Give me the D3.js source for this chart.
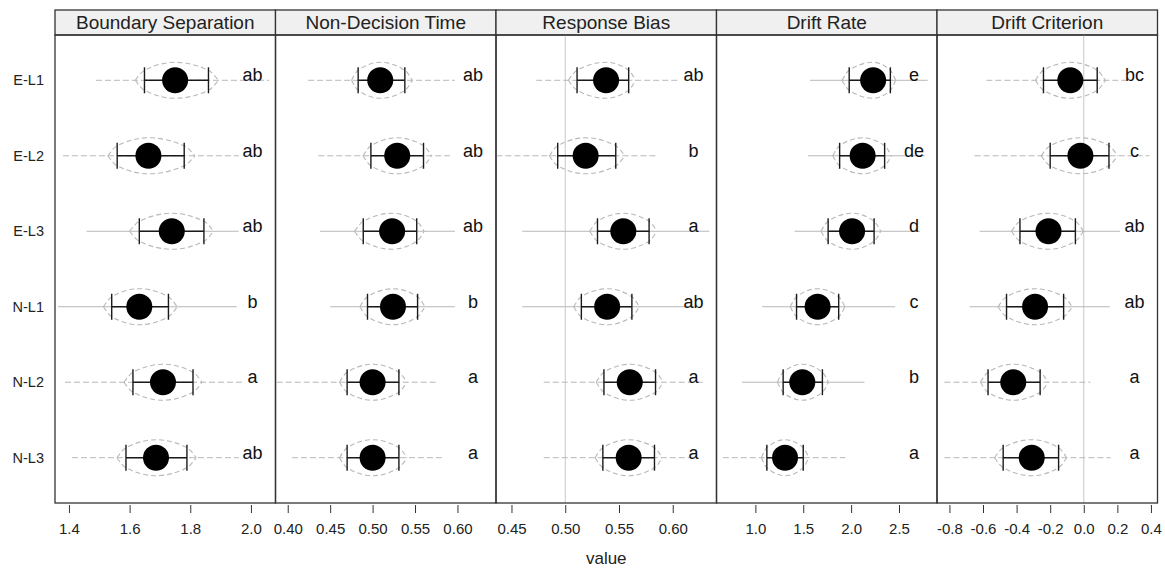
<!DOCTYPE html>
<html>
<head>
<meta charset="utf-8">
<script src="https://cdn.jsdelivr.net/npm/d3@7"></script>
<style>
  body { margin: 0; background: #fff; }
  text { font-family: "Liberation Sans", Arial, sans-serif; }
</style>
</head>
<body>
<div id="chart"></div>
<script>
// rows (conditions) and panels (parameters)
const rowLabels = ["E-L1", "E-L2", "E-L3", "N-L1", "N-L2", "N-L3"];
const panelTitles = ["Boundary Separation", "Non-Decision Time", "Response Bias", "Drift Rate", "Drift Criterion"];

const tickValues = [
  [1.4, 1.6, 1.8, 2.0],
  [0.40, 0.45, 0.50, 0.55, 0.60],
  [0.45, 0.50, 0.55, 0.60],
  [1.0, 1.5, 2.0, 2.5],
  [-0.8, -0.6, -0.4, -0.2, 0.0, 0.2, 0.4]
];
const tickDigits = [1, 2, 2, 1, 1];
const domains = [[1.354, 2.081], [0.3856, 0.6454], [0.4356, 0.6407], [0.594, 2.897], [-0.874, 0.439]];
const refValues = [null, null, 0.5, null, 0.0];

// posterior means, one array per panel, in row order
const means = [
  [1.750, 1.662, 1.739, 1.632, 1.710, 1.687],
  [0.509, 0.529, 0.523, 0.524, 0.500, 0.500],
  [0.538, 0.519, 0.554, 0.539, 0.560, 0.559],
  [2.23, 2.12, 2.01, 1.65, 1.49, 1.31],
  [-0.08, -0.02, -0.21, -0.29, -0.42, -0.31]
];
const ciLow = [
  [1.649, 1.559, 1.632, 1.541, 1.611, 1.588],
  [0.483, 0.498, 0.489, 0.494, 0.470, 0.470],
  [0.511, 0.493, 0.530, 0.515, 0.536, 0.535],
  [1.98, 1.88, 1.76, 1.43, 1.29, 1.12],
  [-0.24, -0.20, -0.38, -0.46, -0.57, -0.48]
];
const ciHigh = [
  [1.860, 1.780, 1.845, 1.728, 1.809, 1.789],
  [0.538, 0.560, 0.552, 0.553, 0.531, 0.531],
  [0.559, 0.547, 0.578, 0.562, 0.584, 0.583],
  [2.41, 2.35, 2.24, 1.87, 1.70, 1.50],
  [0.08, 0.15, -0.05, -0.12, -0.26, -0.15]
];
const tailLow = [
  [1.489, 1.38, 1.458, 1.364, 1.387, 1.41],
  [0.424, 0.436, 0.438, 0.450, 0.387, 0.405],
  [0.473, 0.436, 0.46, 0.46, 0.48, 0.48],
  [1.57, 1.55, 1.41, 1.07, 0.86, 0.66],
  [-0.58, -0.65, -0.62, -0.68, -0.83, -0.83]
];
const tailHigh = [
  [2.06, 1.96, 1.96, 1.953, 1.98, 1.96],
  [0.597, 0.591, 0.597, 0.597, 0.578, 0.585],
  [0.606, 0.585, 0.634, 0.62, 0.63, 0.62],
  [2.80, 2.77, 2.72, 2.46, 2.14, 1.94],
  [0.25, 0.39, 0.215, 0.155, 0.04, 0.16]
];
const letters = [
  ["ab", "ab", "ab", "b", "a", "ab"],
  ["ab", "ab", "ab", "b", "a", "a"],
  ["ab", "b", "a", "ab", "a", "a"],
  ["e", "de", "d", "c", "b", "a"],
  ["bc", "c", "ab", "ab", "a", "a"]
];

// line style of the density tails (1 = solid)
const solidTail = [
  [0, 0, 1, 1, 0, 0],
  [0, 0, 1, 1, 0, 0],
  [0, 0, 1, 1, 0, 0],
  [1, 1, 1, 1, 1, 0],
  [0, 0, 1, 1, 0, 0]
];

function drawChart() {
  const dimensions = {
    width: 1165,
    height: 571,
    left: 55,
    right: 1157.5,
    top: 10,
    strip: 25,
    bottom: 503
  };
  const panelWidth = (dimensions.right - dimensions.left) / panelTitles.length;
  const plotTop = dimensions.top + dimensions.strip;

  const svg = d3.select("#chart")
    .append("svg")
    .attr("width", dimensions.width)
    .attr("height", dimensions.height);

  const yScale = d3.scalePoint()
    .domain(rowLabels)
    .range([plotTop, dimensions.bottom])
    .padding(0.6);

  // row labels
  svg.append("g")
    .selectAll("text")
    .data(rowLabels)
    .join("text")
    .attr("x", 44)
    .attr("y", (d) => yScale(d))
    .attr("dy", "0.35em")
    .attr("text-anchor", "end")
    .attr("font-size", 14.5)
    .attr("fill", "#222")
    .text((d) => d);

  const lens = d3.line()
    .x((p) => p[0])
    .y((p) => p[1])
    .curve(d3.curveMonotoneX);

  panelTitles.forEach((title, i) => {
    const x0 = dimensions.left + i * panelWidth;
    const x1 = x0 + panelWidth;
    const xScale = d3.scaleLinear()
      .domain(domains[i])
      .range([x0, x1]);
    const clampX = (v) => Math.max(x0, Math.min(x1, xScale(v)));
    const fmt = d3.format(`.${tickDigits[i]}f`);

    const panel = svg.append("g");

    // strip
    panel.append("rect")
      .attr("x", x0)
      .attr("y", dimensions.top)
      .attr("width", panelWidth)
      .attr("height", dimensions.strip)
      .attr("fill", "#f0f0f0")
      .attr("stroke", "#333")
      .attr("stroke-width", 1.3);

    panel.append("text")
      .attr("x", (x0 + x1) / 2)
      .attr("y", dimensions.top + dimensions.strip / 2)
      .attr("dy", "0.36em")
      .attr("text-anchor", "middle")
      .attr("font-size", 19)
      .attr("fill", "#222")
      .text(title);

    if (refValues[i] !== null) {
      panel.append("line")
        .attr("x1", xScale(refValues[i]))
        .attr("x2", xScale(refValues[i]))
        .attr("y1", plotTop)
        .attr("y2", dimensions.bottom)
        .attr("stroke", "#c8c8c8")
        .attr("stroke-width", 1);
    }

    rowLabels.forEach((row, j) => {
      const cy = yScale(row);
      const m = means[i][j];
      const lo = ciLow[i][j];
      const hi = ciHigh[i][j];

      // density tails
      panel.append("line")
        .attr("x1", clampX(tailLow[i][j]))
        .attr("x2", clampX(tailHigh[i][j]))
        .attr("y1", cy)
        .attr("y2", cy)
        .attr("stroke", "#b8b8b8")
        .attr("stroke-width", 1)
        .attr("stroke-dasharray", solidTail[i][j] ? null : "6,3");

      // density bulge round the mean
      const a = lo - 0.3 * (m - lo);
      const b = hi + 0.3 * (hi - m);
      [-1, 1].forEach((side) => {
        panel.append("path")
          .attr("d", lens([
            [xScale(a), cy],
            [xScale(lo), cy + side * 10],
            [xScale(m), cy + side * 18],
            [xScale(hi), cy + side * 10],
            [xScale(b), cy]
          ]))
          .attr("fill", "none")
          .attr("stroke", "#b8b8b8")
          .attr("stroke-width", 1.1)
          .attr("stroke-dasharray", "5,3");
      });

      // credible interval
      const bar = panel.append("g")
        .attr("stroke", "#1a1a1a")
        .attr("stroke-width", 1.4);
      bar.append("line")
        .attr("x1", xScale(lo)).attr("x2", xScale(hi))
        .attr("y1", cy).attr("y2", cy);
      [lo, hi].forEach((v) => {
        bar.append("line")
          .attr("x1", xScale(v)).attr("x2", xScale(v))
          .attr("y1", cy - 13).attr("y2", cy + 13);
      });

      panel.append("circle")
        .attr("cx", xScale(m))
        .attr("cy", cy)
        .attr("r", 13)
        .attr("fill", "#000");

      panel.append("text")
        .attr("x", x1 - 23)
        .attr("y", cy + 1)
        .attr("text-anchor", "middle")
        .attr("font-size", 18)
        .attr("fill", "#111")
        .text(letters[i][j]);
    });

    // panel frame
    panel.append("rect")
      .attr("x", x0)
      .attr("y", plotTop)
      .attr("width", panelWidth)
      .attr("height", dimensions.bottom - plotTop)
      .attr("fill", "none")
      .attr("stroke", "#333")
      .attr("stroke-width", 1.3);

    const xAxis = d3.axisBottom(xScale)
      .tickValues(tickValues[i])
      .tickFormat((d) => fmt(d).replace("\u2212", "-"))
      .tickSize(8)
      .tickPadding(10);

    const axis = panel.append("g")
      .attr("transform", `translate(0, ${dimensions.bottom + 2})`)
      .call(xAxis);
    axis.select(".domain").remove();
    axis.selectAll(".tick line").attr("stroke", "#333");
    axis.selectAll(".tick text")
      .attr("font-size", 15)
      .attr("font-family", "Liberation Sans, Arial, sans-serif")
      .attr("fill", "#222");
  });

  svg.append("text")
    .attr("x", (dimensions.left + dimensions.right) / 2)
    .attr("y", 559)
    .attr("dy", "0.32em")
    .attr("text-anchor", "middle")
    .attr("font-size", 17)
    .attr("fill", "#222")
    .text("value");
}

drawChart();
</script>
</body>
</html>
